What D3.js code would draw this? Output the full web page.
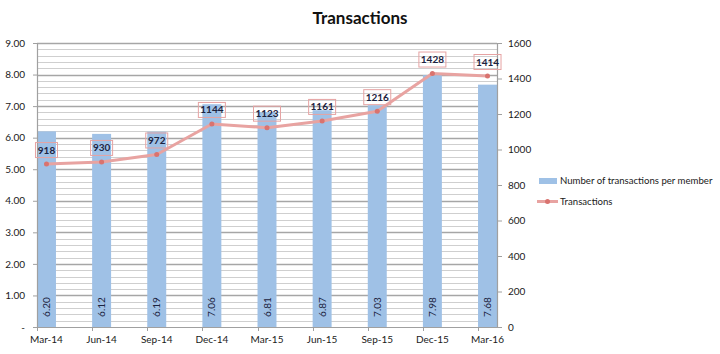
<!DOCTYPE html>
<html>
<head>
<meta charset="utf-8">
<script src="https://cdn.jsdelivr.net/npm/d3@7"></script>
<style>
  body { margin: 0; background: #fff; }
  svg { display: block; font-family: Lato, "Open Sans", sans-serif; }
</style>
</head>
<body>
<svg id="chart" width="720" height="354"></svg>
<script>
const categories = ["Mar-14","Jun-14","Sep-14","Dec-14","Mar-15","Jun-15","Sep-15","Dec-15","Mar-16"];
const perMember = [6.20, 6.12, 6.19, 7.06, 6.81, 6.87, 7.03, 7.98, 7.68];
const transactions = [918, 930, 972, 1144, 1123, 1161, 1216, 1428, 1414];
const leftTicks = [0,1,2,3,4,5,6,7,8,9];
const rightTicks = [0,200,400,600,800,1000,1200,1400,1600];
const minorTicks = d3.range(0, 9.001, 0.2);

const svg = d3.select("#chart");
const L = 37, R = 497, T = 43, B = 327;

const x = d3.scaleBand().domain(categories).range([L, R]).paddingInner(0.656).paddingOuter(0);
const yL = d3.scaleLinear().domain([0, 9]).range([B, T]);
const yR = d3.scaleLinear().domain([0, 1600]).range([B, T]);

// minor gridlines
svg.append("g").selectAll("line").data(minorTicks).join("line")
  .attr("x1", L).attr("x2", R)
  .attr("y1", d => Math.round(yL(d)) + 0.5).attr("y2", d => Math.round(yL(d)) + 0.5)
  .attr("stroke", "#cfcfcf").attr("stroke-width", 1);
// major gridlines
svg.append("g").selectAll("line").data(leftTicks.slice(1)).join("line")
  .attr("x1", L).attr("x2", R)
  .attr("y1", d => Math.round(yL(d)) + 0.5).attr("y2", d => Math.round(yL(d)) + 0.5)
  .attr("stroke", "#a6a6a6").attr("stroke-width", 1.5);

// bars
svg.append("g").selectAll("rect").data(perMember).join("rect")
  .attr("x", (d, i) => x(categories[i]))
  .attr("width", x.bandwidth())
  .attr("y", d => yL(d))
  .attr("height", d => B - yL(d))
  .attr("fill", "#9fc1e6");

// bar labels
svg.append("g").selectAll("text").data(perMember).join("text")
  .attr("transform", (d, i) => `translate(${x(categories[i]) + x.bandwidth() / 2 + 3.5},307) rotate(-90)`)
  .attr("text-anchor", "middle")
  .attr("font-size", 10)
  .attr("fill", "#1c2340")
  .text(d => d.toFixed(2));

// axes
const axL = svg.append("g").attr("transform", `translate(${L},0)`)
  .call(d3.axisLeft(yL).tickValues(leftTicks).tickSize(4).tickFormat(d => d === 0 ? "-" : d3.format(".2f")(d)));
const axR = svg.append("g").attr("transform", `translate(${R},0)`)
  .call(d3.axisRight(yR).tickValues(rightTicks).tickSize(5).tickFormat(d3.format("d")));
const axB = svg.append("g").attr("transform", `translate(0,${B})`)
  .call(d3.axisBottom(x).tickSize(0).tickPadding(9));
[axL, axR, axB].forEach(g => {
  g.select(".domain").attr("stroke", "#a0a0a0").attr("stroke-width", 1.2);
  g.selectAll(".tick line").attr("stroke", "#a0a0a0");
  g.selectAll("text").attr("font-size", 10).attr("fill", "#1a1a1a").attr("font-family", "Lato, 'Open Sans', sans-serif");
});
axL.selectAll("text").attr("dx", -5);
axR.selectAll("text").attr("dx", 3);
axB.select(".domain").attr("d", `M${L},0.5H${R}`);
// category separator ticks
svg.append("g").selectAll("line").data(categories).join("line")
  .attr("x1", d => Math.round(x(d)) + 0.5).attr("x2", d => Math.round(x(d)) + 0.5)
  .attr("y1", B).attr("y2", B + 4)
  .attr("stroke", "#a0a0a0");

// line
const line = d3.line().x((d, i) => x(categories[i]) + x.bandwidth() / 2).y(d => yR(d));
svg.append("path").datum(transactions)
  .attr("d", line).attr("fill", "none")
  .attr("stroke", "#e8a3a1").attr("stroke-width", 3).attr("stroke-linejoin", "round");
svg.append("g").selectAll("circle").data(transactions).join("circle")
  .attr("cx", (d, i) => x(categories[i]) + x.bandwidth() / 2)
  .attr("cy", d => yR(d)).attr("r", 2.5)
  .attr("fill", "#d9736f");

// line labels with boxes
const lbl = svg.append("g").selectAll("g").data(transactions).join("g")
  .attr("transform", (d, i) => `translate(${x(categories[i]) + x.bandwidth() / 2},${yR(d) - 14})`);
lbl.append("rect")
  .attr("x", d => String(d).length > 3 ? -13.5 : -11)
  .attr("width", d => String(d).length > 3 ? 27 : 22)
  .attr("y", -7.5).attr("height", 15)
  .attr("fill", "none")
  .attr("stroke", "#e6a3a3").attr("stroke-width", 1);
lbl.append("text")
  .attr("text-anchor", "middle").attr("dy", "0.35em")
  .attr("font-size", 10).attr("font-weight", "bold")
  .attr("fill", "#1c2340")
  .text(d => d);

// title
svg.append("text").attr("x", 360).attr("y", 24)
  .attr("text-anchor", "middle").attr("font-size", 17).attr("font-weight", "bold")
  .attr("fill", "#111").text("Transactions");

// legend
const lg = svg.append("g");
lg.append("rect").attr("x", 539).attr("y", 178).attr("width", 18).attr("height", 6).attr("fill", "#9fc1e6");
lg.append("text").attr("x", 560).attr("y", 181).attr("dy", "0.35em").attr("font-size", 9.6).attr("fill", "#1a1a1a")
  .text("Number of transactions per member");
lg.append("line").attr("x1", 537).attr("x2", 558).attr("y1", 201.5).attr("y2", 201.5)
  .attr("stroke", "#e8a3a1").attr("stroke-width", 3);
lg.append("circle").attr("cx", 547.5).attr("cy", 201.5).attr("r", 2.5).attr("fill", "#d9736f");
lg.append("text").attr("x", 560).attr("y", 201.5).attr("dy", "0.35em").attr("font-size", 9.6).attr("fill", "#1a1a1a")
  .text("Transactions");
</script>
</body>
</html>
